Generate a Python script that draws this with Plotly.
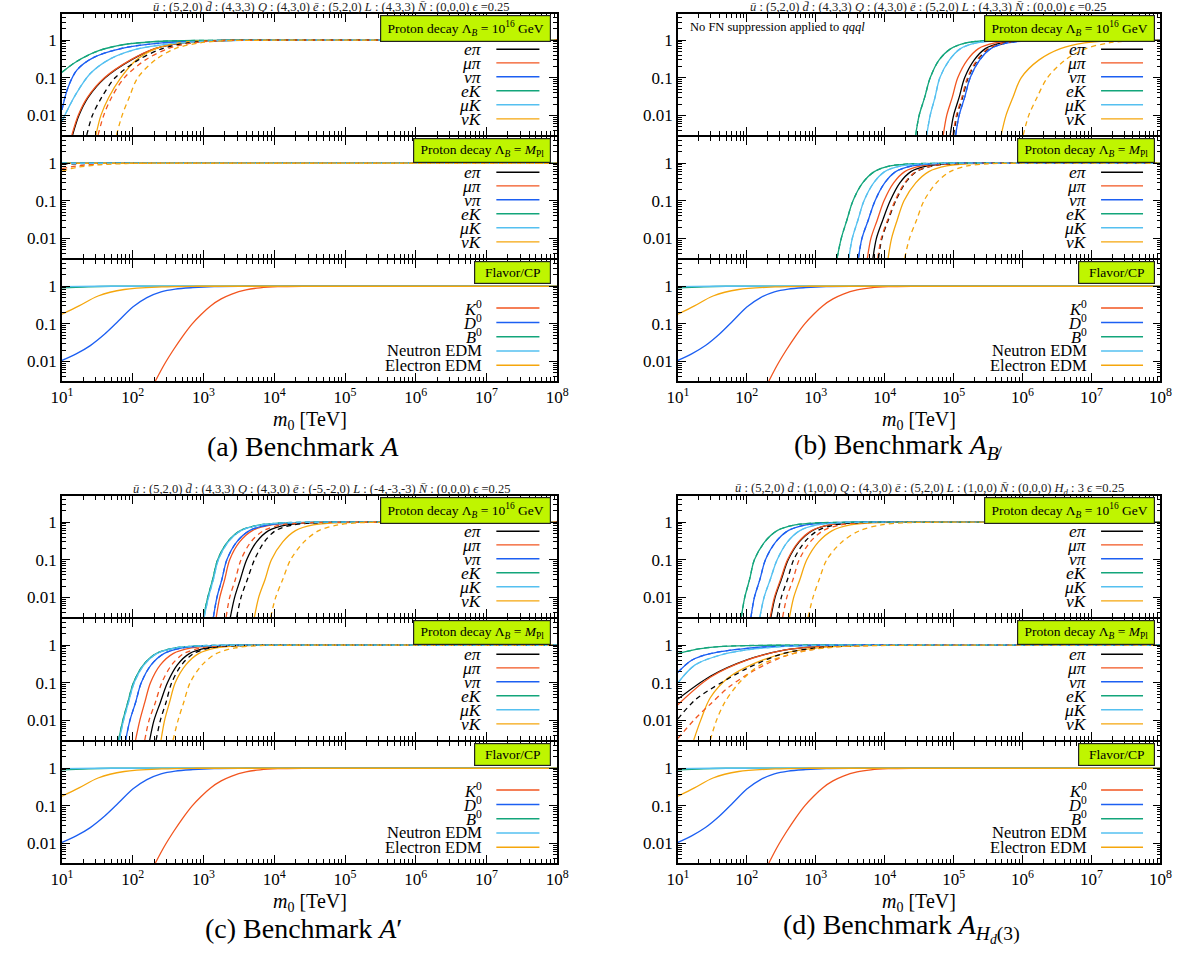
import numpy as np
import plotly.graph_objects as go

W, H = 1193, 959
FONT = "Liberation Serif, Times New Roman, serif"

# ---------------- axes / ticks ----------------
X_MIN, X_MAX = 10.0, 1e8
Y_MIN, Y_MAX = 0.003, 5.0
X_TICKVALS = [1e1, 1e2, 1e3, 1e4, 1e5, 1e6, 1e7, 1e8]
X_TICKTEXT = ["10<sup>1</sup>", "10<sup>2</sup>", "10<sup>3</sup>", "10<sup>4</sup>",
              "10<sup>5</sup>", "10<sup>6</sup>", "10<sup>7</sup>", "10<sup>8</sup>"]
Y_TICKVALS = [0.01, 0.1, 1.0]
Y_TICKTEXT = ["0.01", "0.1", "1"]

# ---------------- series labels / colours ----------------
CH_LABELS = ["<i>eπ</i>", "<i>μπ</i>", "<i>νπ</i>", "<i>eK</i>", "<i>μK</i>", "<i>νK</i>"]
FL_LABELS = ["<i>K</i><sup>0</sup>", "<i>D</i><sup>0</sup>", "<i>B</i><sup>0</sup>",
             "Neutron EDM", "Electron EDM"]
C_BLACK, C_RED, C_BLUE = "#000000", "#f2551f", "#1c5ff2"
C_GREEN, C_LBLUE, C_YELLOW = "#13a57b", "#55c0f0", "#f5a60c"
CH_COLORS = [C_BLACK, C_RED, C_BLUE, C_GREEN, C_LBLUE, C_YELLOW]
FL_COLORS = [C_RED, C_BLUE, C_GREEN, C_LBLUE, C_YELLOW]
BOX_COLOR = "#bff500"

# ---------------- data (log10 m0 [TeV], fraction) ----------------
PD_Y = [0.003, 0.01, 0.03, 0.1, 0.3, 0.6, 0.85, 0.97, 1.0, 1.0]
FLAT = ([1.0, 8.0], [1.0, 1.0])

# (a) Benchmark A
A_TOP_SOLID = [
    ([1.15, 1.24, 1.37, 1.61, 1.98, 2.32, 2.70, 3.10, 3.60, 8.0], PD_Y),
    ([1.14, 1.23, 1.36, 1.60, 1.97, 2.31, 2.69, 3.08, 3.60, 8.0], PD_Y),
    ([1.0, 1.08, 1.21, 1.45, 1.88, 2.41, 3.0, 3.5, 8.0], [0.014, 0.052, 0.16, 0.35, 0.63, 0.85, 0.97, 1.0, 1.0]),
    ([1.0, 1.19, 1.51, 1.88, 2.41, 2.95, 3.5, 8.0], [0.14, 0.26, 0.52, 0.77, 0.94, 0.99, 1.0, 1.0]),
    ([1.0, 1.19, 1.40, 1.67, 2.04, 2.52, 3.05, 3.6, 8.0], [0.007, 0.035, 0.13, 0.31, 0.57, 0.8, 0.95, 1.0, 1.0]),
    ([1.48, 1.55, 1.66, 1.83, 2.05, 2.33, 2.65, 3.0, 3.5, 8.0], PD_Y),
]
A_TOP_DASHED = [
    ([1.35, 1.43, 1.56, 1.75, 2.08, 2.42, 2.78, 3.15, 3.7, 8.0], PD_Y),
    ([1.51, 1.59, 1.70, 1.88, 2.18, 2.50, 2.85, 3.20, 3.7, 8.0], PD_Y),
    A_TOP_SOLID[2], A_TOP_SOLID[3], A_TOP_SOLID[4],
    ([1.77, 1.85, 1.95, 2.07, 2.32, 2.60, 2.95, 3.30, 3.8, 8.0], PD_Y),
]
A_MID_SOLID = [FLAT, FLAT, FLAT, FLAT, FLAT, FLAT]
A_MID_DASHED = [
    ([1.0, 1.3, 1.7, 8.0], [0.95, 0.98, 1.0, 1.0]),
    ([1.0, 1.2, 1.5, 1.9, 8.0], [0.72, 0.84, 0.95, 1.0, 1.0]),
    FLAT, FLAT, FLAT,
    ([1.0, 1.2, 1.5, 1.9, 2.2, 8.0], [0.62, 0.77, 0.9, 0.98, 1.0, 1.0]),
]

# (b) Benchmark A_B-slash
B_TOP_SOLID = [
    ([4.95, 5.00, 5.08, 5.16, 5.30, 5.46, 5.70, 6.00, 6.40, 8.0], PD_Y),
    ([4.85, 4.90, 4.98, 5.06, 5.20, 5.36, 5.60, 5.90, 6.30, 8.0], PD_Y),
    ([5.03, 5.08, 5.16, 5.24, 5.38, 5.54, 5.78, 6.08, 6.50, 8.0], PD_Y),
    ([4.45, 4.50, 4.58, 4.66, 4.79, 4.96, 5.18, 5.45, 5.90, 8.0], PD_Y),
    ([4.61, 4.66, 4.73, 4.80, 4.94, 5.10, 5.33, 5.60, 6.00, 8.0], PD_Y),
    ([5.69, 5.76, 5.86, 5.98, 6.24, 6.55, 6.90, 7.25, 7.70, 8.0], PD_Y),
]
B_TOP_DASHED = [
    ([5.00, 5.05, 5.13, 5.21, 5.35, 5.51, 5.75, 6.05, 6.45, 8.0], PD_Y),
    ([4.99, 5.04, 5.12, 5.20, 5.34, 5.50, 5.74, 6.04, 6.45, 8.0], PD_Y),
    B_TOP_SOLID[2], B_TOP_SOLID[3], B_TOP_SOLID[4],
    ([6.01, 6.09, 6.21, 6.36, 6.62, 6.92, 7.25, 7.60, 7.95, 8.0], PD_Y),
]
B_MID_SOLID = [
    ([3.83, 3.88, 3.97, 4.08, 4.22, 4.38, 4.62, 4.92, 5.30, 8.0], PD_Y),
    ([3.75, 3.80, 3.89, 3.99, 4.13, 4.29, 4.53, 4.83, 5.25, 8.0], PD_Y),
    ([3.62, 3.67, 3.76, 3.86, 4.00, 4.16, 4.40, 4.70, 5.10, 8.0], PD_Y),
    ([3.31, 3.37, 3.45, 3.54, 3.68, 3.85, 4.08, 4.40, 4.90, 8.0], PD_Y),
    ([3.48, 3.53, 3.61, 3.70, 3.84, 4.00, 4.24, 4.55, 5.00, 8.0], PD_Y),
    ([4.05, 4.10, 4.18, 4.28, 4.45, 4.64, 4.90, 5.20, 5.60, 8.0], PD_Y),
]
B_MID_DASHED = [
    ([3.91, 3.96, 4.05, 4.16, 4.30, 4.46, 4.70, 5.00, 5.40, 8.0], PD_Y),
    ([3.90, 3.95, 4.04, 4.15, 4.29, 4.45, 4.69, 4.99, 5.40, 8.0], PD_Y),
    B_MID_SOLID[2], B_MID_SOLID[3], B_MID_SOLID[4],
    ([4.29, 4.36, 4.46, 4.57, 4.75, 4.95, 5.20, 5.50, 5.90, 8.0], PD_Y),
]

# (c) Benchmark A'
C_TOP_SOLID = [
    ([3.38, 3.44, 3.52, 3.61, 3.75, 3.92, 4.18, 4.50, 4.95, 8.0], PD_Y),
    ([3.18, 3.23, 3.30, 3.37, 3.51, 3.69, 3.96, 4.30, 4.75, 8.0], PD_Y),
    ([3.14, 3.19, 3.26, 3.33, 3.47, 3.65, 3.92, 4.25, 4.70, 8.0], PD_Y),
    ([3.00, 3.06, 3.13, 3.20, 3.34, 3.52, 3.80, 4.15, 4.60, 8.0], PD_Y),
    ([3.01, 3.07, 3.14, 3.21, 3.35, 3.53, 3.81, 4.16, 4.60, 8.0], PD_Y),
    ([3.72, 3.78, 3.87, 3.96, 4.12, 4.30, 4.55, 4.88, 5.30, 8.0], PD_Y),
]
C_TOP_DASHED = [
    ([3.47, 3.53, 3.62, 3.72, 3.86, 4.02, 4.27, 4.60, 5.00, 8.0], PD_Y),
    ([3.32, 3.37, 3.45, 3.53, 3.67, 3.85, 4.10, 4.45, 4.90, 8.0], PD_Y),
    C_TOP_SOLID[2], C_TOP_SOLID[3], C_TOP_SOLID[4],
    ([3.95, 4.02, 4.12, 4.23, 4.42, 4.63, 4.90, 5.20, 5.60, 8.0], PD_Y),
]
C_MID_SOLID = [
    ([2.24, 2.30, 2.39, 2.49, 2.63, 2.80, 3.05, 3.37, 3.80, 8.0], PD_Y),
    ([2.04, 2.10, 2.17, 2.25, 2.39, 2.57, 2.83, 3.15, 3.60, 8.0], PD_Y),
    ([1.90, 1.96, 2.04, 2.12, 2.26, 2.44, 2.70, 3.05, 3.50, 8.0], PD_Y),
    ([1.80, 1.86, 1.93, 2.01, 2.15, 2.33, 2.60, 2.95, 3.40, 8.0], PD_Y),
    ([1.81, 1.87, 1.94, 2.02, 2.16, 2.34, 2.61, 2.96, 3.40, 8.0], PD_Y),
    ([2.40, 2.45, 2.52, 2.60, 2.75, 2.93, 3.18, 3.50, 3.90, 8.0], PD_Y),
]
C_MID_DASHED = [
    ([2.33, 2.39, 2.47, 2.55, 2.69, 2.86, 3.10, 3.42, 3.85, 8.0], PD_Y),
    ([2.17, 2.23, 2.32, 2.41, 2.55, 2.72, 2.97, 3.30, 3.70, 8.0], PD_Y),
    C_MID_SOLID[2], C_MID_SOLID[3], C_MID_SOLID[4],
    ([2.57, 2.64, 2.72, 2.81, 2.98, 3.18, 3.45, 3.75, 4.20, 8.0], PD_Y),
]

# (d) Benchmark A_Hd(3)
D_TOP_SOLID = [
    ([2.35, 2.41, 2.50, 2.60, 2.76, 2.95, 3.20, 3.52, 3.95, 8.0], PD_Y),
    ([2.34, 2.40, 2.49, 2.59, 2.75, 2.94, 3.19, 3.51, 3.95, 8.0], PD_Y),
    ([2.06, 2.11, 2.19, 2.27, 2.42, 2.60, 2.86, 3.20, 3.60, 8.0], PD_Y),
    ([1.92, 1.97, 2.04, 2.11, 2.26, 2.44, 2.70, 3.05, 3.50, 8.0], PD_Y),
    ([2.19, 2.25, 2.34, 2.44, 2.59, 2.77, 3.02, 3.35, 3.75, 8.0], PD_Y),
    ([2.62, 2.68, 2.77, 2.87, 3.04, 3.24, 3.50, 3.82, 4.25, 8.0], PD_Y),
]
D_TOP_DASHED = [
    ([2.44, 2.50, 2.59, 2.68, 2.84, 3.03, 3.28, 3.60, 4.00, 8.0], PD_Y),
    ([2.52, 2.58, 2.67, 2.76, 2.92, 3.11, 3.36, 3.68, 4.10, 8.0], PD_Y),
    D_TOP_SOLID[2], D_TOP_SOLID[3], D_TOP_SOLID[4],
    ([2.89, 2.96, 3.05, 3.16, 3.38, 3.64, 3.95, 4.30, 4.70, 8.0], PD_Y),
]
D_MID_SOLID = [
    ([1.0, 1.47, 2.0, 2.54, 3.0, 3.5, 8.0], [0.037, 0.15, 0.41, 0.74, 0.92, 0.99, 1.0]),
    ([1.0, 1.47, 2.0, 2.54, 3.0, 3.5, 8.0], [0.026, 0.14, 0.40, 0.74, 0.92, 0.99, 1.0]),
    ([1.0, 1.2, 1.47, 2.0, 2.5, 3.0, 8.0], [0.19, 0.40, 0.60, 0.83, 0.95, 1.0, 1.0]),
    ([1.0, 1.3, 1.6, 2.0, 2.4, 8.0], [0.6, 0.8, 0.92, 0.98, 1.0, 1.0]),
    ([1.0, 1.25, 1.62, 2.0, 2.5, 3.0, 8.0], [0.10, 0.30, 0.55, 0.75, 0.92, 0.99, 1.0]),
    ([1.23, 1.33, 1.47, 1.74, 2.11, 2.6, 3.1, 3.7, 8.0], [0.003, 0.01, 0.04, 0.14, 0.33, 0.65, 0.88, 0.98, 1.0]),
]
D_MID_DASHED = [
    ([1.0, 1.25, 1.47, 2.0, 2.5, 3.0, 3.6, 8.0], [0.011, 0.035, 0.067, 0.24, 0.58, 0.85, 0.98, 1.0]),
    ([1.0, 1.25, 1.47, 1.74, 2.12, 2.6, 3.1, 3.7, 8.0], [0.0033, 0.011, 0.027, 0.077, 0.22, 0.55, 0.85, 0.98, 1.0]),
    D_MID_SOLID[2], D_MID_SOLID[3], D_MID_SOLID[4],
    ([1.47, 1.56, 1.68, 1.89, 2.20, 2.8, 3.3, 3.9, 8.0], [0.003, 0.01, 0.03, 0.1, 0.3, 0.68, 0.9, 0.98, 1.0]),
]

# Flavor / CP (same in all four benchmarks)
FL_K0 = ([2.32, 2.45, 2.58, 2.71, 2.84, 2.97, 3.10, 3.25, 3.40, 3.60, 3.80, 4.05, 4.40, 8.0],
         [0.003, 0.0085, 0.021, 0.048, 0.1, 0.18, 0.30, 0.46, 0.62, 0.80, 0.91, 0.975, 1.0, 1.0])
FL_D0 = ([1.0, 1.2, 1.4, 1.6, 1.8, 2.0, 2.2, 2.4, 2.6, 2.85, 3.15, 3.6, 8.0],
         [0.0106, 0.0158, 0.0263, 0.0525, 0.12, 0.28, 0.50, 0.71, 0.84, 0.92, 0.98, 1.0, 1.0])
FL_B0 = ([1.0, 1.3, 1.7, 8.0], [0.9, 0.95, 1.0, 1.0])
FL_NEDM = ([1.0, 1.5, 8.0], [0.98, 1.0, 1.0])
FL_EEDM = ([1.0, 1.24, 1.51, 1.88, 2.41, 2.9, 8.0], [0.18, 0.30, 0.55, 0.82, 0.96, 1.0, 1.0])
FL_CURVES = [FL_K0, FL_D0, FL_B0, FL_NEDM, FL_EEDM]

# ---------------- texts ----------------
DB = "d\u0304"
NB = "N\u0304"
TITLE_A = (f"<i>ū</i> : (5,2,0) <i>{DB}</i> : (4,3,3) <i>Q</i> : (4,3,0) <i>ē</i> : (5,2,0) "
           f"<i>L</i> : (4,3,3) <i>{NB}</i> : (0,0,0) <i>ϵ</i> =0.25")
TITLE_C = (f"<i>ū</i> : (5,2,0) <i>{DB}</i> : (4,3,3) <i>Q</i> : (4,3,0) <i>ē</i> : (-5,-2,0) "
           f"<i>L</i> : (-4,-3,-3) <i>{NB}</i> : (0,0,0) <i>ϵ</i> =0.25")
TITLE_D = (f"<i>ū</i> : (5,2,0) <i>{DB}</i> : (1,0,0) <i>Q</i> : (4,3,0) <i>ē</i> : (5,2,0) "
           f"<i>L</i> : (1,0,0) <i>{NB}</i> : (0,0,0) <i>H<sub>d</sub></i> : 3 <i>ϵ</i> =0.25")
CAP_A = "(a) Benchmark <i>A</i>"
CAP_B = "(b) Benchmark <i>A</i><sub><i>B\u0338</i></sub>"
CAP_C = "(c) Benchmark <i>A</i>′"
CAP_D = "(d) Benchmark <i>A</i><sub><i>H<sub>d</sub></i>(3)</sub>"
BOX_TOP = "\u00a0Proton decay Λ<sub><i>B</i></sub> = 10<sup>16</sup> GeV\u00a0"
BOX_MID = "\u00a0Proton decay Λ<sub><i>B</i></sub> = <i>M</i><sub>Pl</sub>\u00a0"
BOX_FL = "\u00a0\u00a0Flavor/CP\u00a0\u00a0"
XLABEL = "<i>m</i><sub>0</sub> [TeV]"

# ---------------- layout geometry (pixels) ----------------
PANELS = [
    dict(x0=52, x1=557, off=0, title=TITLE_A, tcx=327, cap=CAP_A, ccx=298,
         top=(A_TOP_SOLID, A_TOP_DASHED), mid=(A_MID_SOLID, A_MID_DASHED), note=False),
    dict(x0=680, x1=1172, off=0, title=TITLE_A, tcx=936, cap=CAP_B, ccx=905,
         top=(B_TOP_SOLID, B_TOP_DASHED), mid=(B_MID_SOLID, B_MID_DASHED), note=True),
    dict(x0=52, x1=557, off=482, title=TITLE_C, tcx=317, cap=CAP_C, ccx=298,
         top=(C_TOP_SOLID, C_TOP_DASHED), mid=(C_MID_SOLID, C_MID_DASHED), note=False),
    dict(x0=680, x1=1172, off=482, title=TITLE_D, tcx=937, cap=CAP_D, ccx=908,
         top=(D_TOP_SOLID, D_TOP_DASHED), mid=(D_MID_SOLID, D_MID_DASHED), note=False),
]
SUB_TOPS = [14, 137, 260]
SUB_H = 121
PD_ROWS = [0.709, 0.596, 0.482, 0.366, 0.250, 0.133]
FL_ROWS = [0.603, 0.484, 0.366, 0.248, 0.130]

X_MINOR = [m * 10.0 ** k for k in range(1, 8) for m in range(2, 10)]
Y_MINOR = [m * 10.0 ** k for k in (-3, -2, -1, 0) for m in range(2, 10) if 0.003 <= m * 10.0 ** k <= 5]


def px_x(p):
    return p / W


def px_y(p):
    return 1 - p / H


fig = go.Figure()
layout = dict(width=W, height=H, margin=dict(l=0, r=0, t=0, b=0), autosize=False,
              paper_bgcolor="white", plot_bgcolor="white", showlegend=False)
annotations = []
shapes = []


def add_curve(xa, ya, curve, color, dash):
    lx, yy = curve
    fig.add_trace(go.Scatter(
        x=10 ** np.array(lx, dtype=float), y=yy, mode="lines",
        line=dict(color=color, width=1.3, dash=dash, shape="spline", smoothing=0.9),
        xaxis=xa, yaxis=ya, hoverinfo="skip", showlegend=False))


tickfont = dict(family=FONT, size=17, color="black")

for p, P in enumerate(PANELS):
    for s in range(3):
        idx = p * 3 + s + 1
        sfx = "" if idx == 1 else str(idx)
        xa, ya = "x" + sfx, "y" + sfx
        top = SUB_TOPS[s] + P["off"]
        xdom = [px_x(P["x0"]), px_x(P["x1"])]
        ydom = [px_y(top + SUB_H), px_y(top)]
        bottom_sub = (s == 2)
        layout["xaxis" + sfx] = dict(
            type="log", range=[np.log10(X_MIN), np.log10(X_MAX)], domain=xdom, anchor=ya,
            showline=True, linecolor="black", linewidth=1.6, mirror="allticks",
            ticks="inside", ticklen=8, tickwidth=1.2, tickcolor="black",
            tickmode="array", tickvals=X_TICKVALS, ticktext=X_TICKTEXT,
            showticklabels=bottom_sub, tickfont=tickfont, showgrid=False, zeroline=False,
            minor=dict(ticks="inside", ticklen=4, tickwidth=1, tickcolor="black",
                       tickmode="array", tickvals=X_MINOR, showgrid=False))
        layout["yaxis" + sfx] = dict(
            type="log", range=[np.log10(Y_MIN), np.log10(Y_MAX)], domain=ydom, anchor=xa,
            showline=True, linecolor="black", linewidth=1.6, mirror="allticks",
            ticks="inside", ticklen=8, tickwidth=1.2, tickcolor="black",
            tickmode="array", tickvals=Y_TICKVALS, ticktext=Y_TICKTEXT,
            tickfont=tickfont, showgrid=False, zeroline=False,
            minor=dict(ticks="inside", ticklen=4, tickwidth=1, tickcolor="black",
                       tickmode="array", tickvals=Y_MINOR, showgrid=False))

        dx = xa + " domain"
        dy = ya + " domain"
        if s < 2:
            solid, dashed = P["top"] if s == 0 else P["mid"]
            for c in range(6):
                add_curve(xa, ya, solid[c], CH_COLORS[c], "solid")
            for c in range(6):
                add_curve(xa, ya, dashed[c], CH_COLORS[c], "5px,4px")
            labels, colors, rows = CH_LABELS, CH_COLORS, PD_ROWS
            box = BOX_TOP if s == 0 else BOX_MID
            lsize = 17.5
        else:
            for c in range(5):
                add_curve(xa, ya, FL_CURVES[c], FL_COLORS[c], "solid")
            labels, colors, rows = FL_LABELS, FL_COLORS, FL_ROWS
            box = BOX_FL
            lsize = 16.5
        for lab, col, ry in zip(labels, colors, rows):
            annotations.append(dict(text=lab, xref=dx, yref=dy, x=0.852, y=ry,
                                    xanchor="right", yanchor="middle", showarrow=False,
                                    font=dict(family=FONT, size=lsize, color="black")))
            shapes.append(dict(type="line", xref=dx, yref=dy, x0=0.877, x1=0.964, y0=ry, y1=ry,
                               line=dict(color=col, width=1.4)))
        annotations.append(dict(text=box, xref=dx, yref=dy, x=0.988, y=0.99,
                                xanchor="right", yanchor="top", showarrow=False,
                                font=dict(family=FONT, size=13.5, color="black"),
                                bgcolor=BOX_COLOR, bordercolor="#222222", borderwidth=1.2,
                                borderpad=3))
        if s == 0 and P["note"]:
            annotations.append(dict(text="No FN suppression applied to <i>qqql</i>", xref=dx, yref=dy,
                                    x=0.02, y=0.89, xanchor="left", yanchor="middle",
                                    showarrow=False, font=dict(family=FONT, size=12.5, color="black")))

    off = P["off"]
    annotations.append(dict(text=P["title"], xref="paper", yref="paper", x=px_x(P["tcx"]),
                            y=px_y(7 + off), xanchor="center", yanchor="middle", showarrow=False,
                            font=dict(family=FONT, size=12.5, color="#222222")))
    annotations.append(dict(text=XLABEL, xref="paper", yref="paper",
                            x=px_x((P["x0"] + P["x1"]) / 2), y=px_y(420 + off),
                            xanchor="center", yanchor="middle", showarrow=False,
                            font=dict(family=FONT, size=20, color="black")))
    annotations.append(dict(text=P["cap"], xref="paper", yref="paper", x=px_x(P["ccx"]),
                            y=px_y(446 + off), xanchor="center", yanchor="middle", showarrow=False,
                            font=dict(family=FONT, size=28, color="black")))

layout["annotations"] = annotations
layout["shapes"] = shapes
fig.update_layout(**layout)
fig.write_html("out.html")
